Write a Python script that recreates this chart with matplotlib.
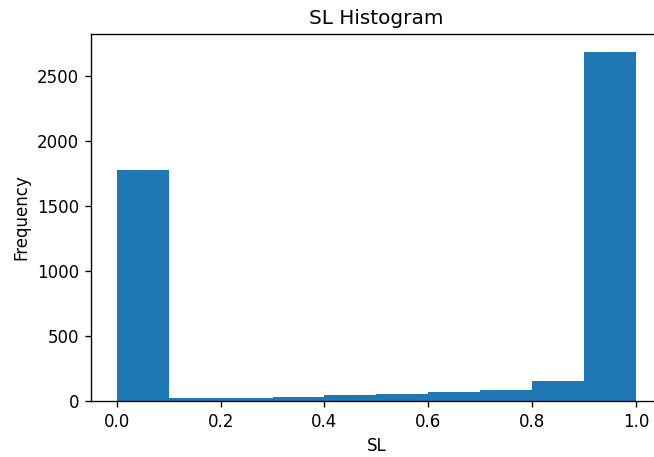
import matplotlib
matplotlib.use("Agg")
import matplotlib.pyplot as plt
import numpy as np

# SL value histogram: 10 equal bins over [0, 1]
bin_edges = [0.0, 0.1, 0.2, 0.3, 0.4, 0.5, 0.6, 0.7, 0.8, 0.9, 1.0]
counts = [1775, 27, 25, 30, 48, 57, 70, 85, 155, 2688]

fig = plt.figure(figsize=(654 / 120, 457 / 120), dpi=120)
# axes run slightly past the right edge of the canvas
ax = fig.add_axes([0.139, 0.1225, 0.873, 0.803])

ax.hist(bin_edges[:-1], bins=bin_edges, weights=counts, color="#1f77b4")

ax.set_title("SL Histogram")
ax.set_xlabel("SL")
ax.set_ylabel("Frequency")
ax.set_xticks(np.arange(0.0, 1.01, 0.2))
ax.spines["right"].set_visible(False)

fig.savefig("out.png", dpi=120)
